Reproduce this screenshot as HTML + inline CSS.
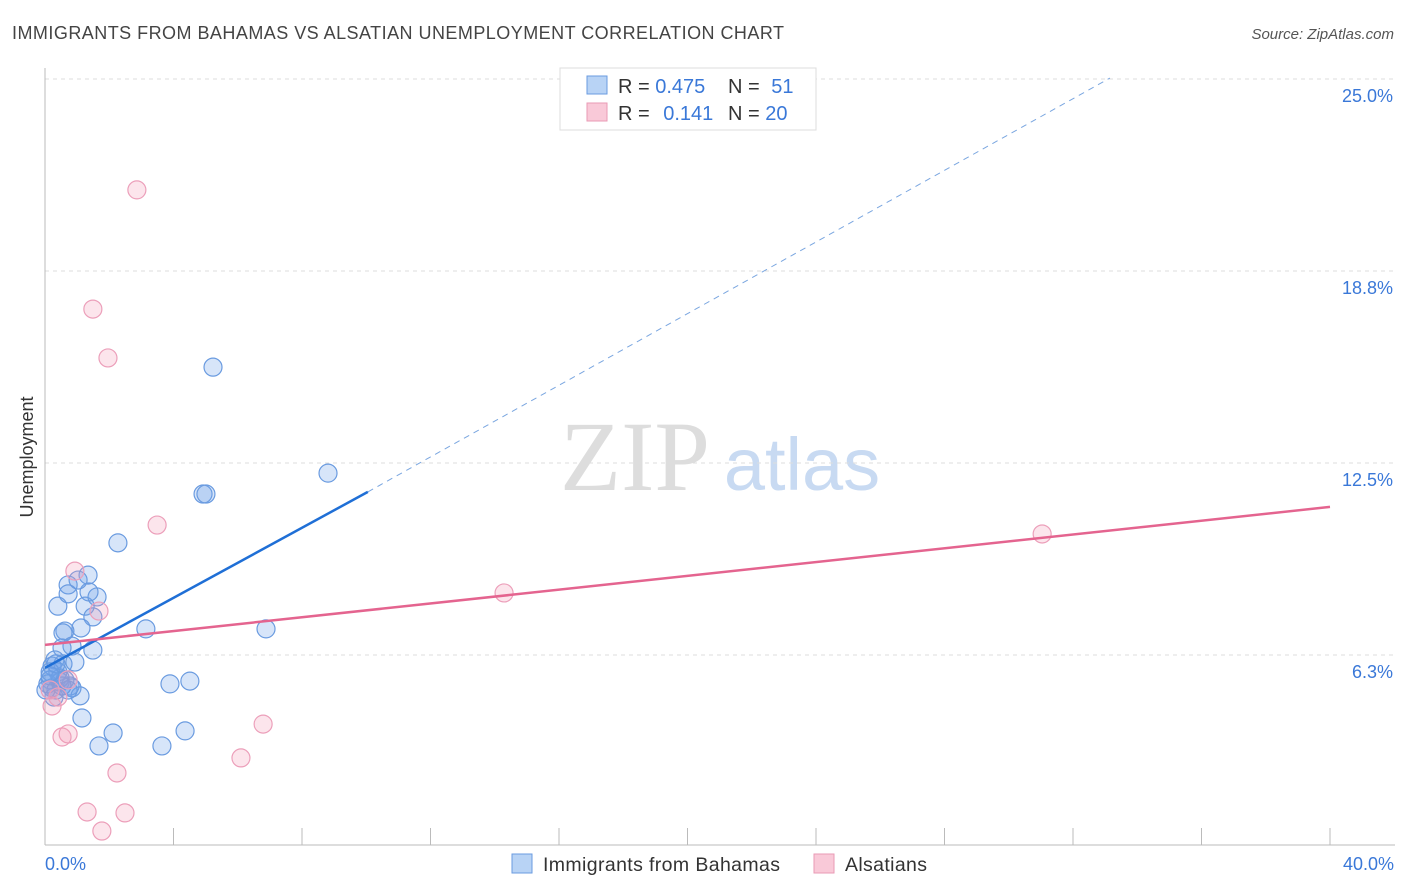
<!DOCTYPE html>
<html><head><meta charset="utf-8"><style>
body{margin:0;background:#fff;font-family:"Liberation Sans",sans-serif;}
svg{display:block}
</style></head><body>
<svg id="chart" width="1406" height="892">
<text x="12" y="39" font-size="18" fill="#444" textLength="772">IMMIGRANTS FROM BAHAMAS VS ALSATIAN UNEMPLOYMENT CORRELATION CHART</text>
<text x="1394" y="39" font-size="15" fill="#555" text-anchor="end" font-style="italic">Source: ZipAtlas.com</text>
<text x="33" y="457" font-size="18" fill="#333" text-anchor="middle" transform="rotate(-90 33 457)">Unemployment</text>
<g><text x="635" y="490" font-size="100" fill="#ddd" text-anchor="middle" font-family="Liberation Serif,serif">ZIP</text><text x="802" y="490" font-size="74" fill="#c8daf2" text-anchor="middle">atlas</text></g>
<g id="grid"></g><g id="marks"></g>
<g>
<rect x="560" y="68" width="256" height="62" fill="#fff" stroke="#ddd"/>
<rect x="587" y="76" width="20" height="18" fill="#b8d3f5" stroke="#6a9be0"/>
<rect x="587" y="103" width="20" height="18" fill="#f9c9d8" stroke="#e99ab5"/>
<text x="618" y="93" font-size="20" fill="#333">R = <tspan fill="#3a78d8">0.475</tspan></text>
<text x="728" y="93" font-size="20" fill="#333">N = <tspan fill="#3a78d8" dx="6">51</tspan></text>
<text x="618" y="120" font-size="20" fill="#333">R = <tspan fill="#3a78d8" dx="8">0.141</tspan></text>
<text x="728" y="120" font-size="20" fill="#333">N = <tspan fill="#3a78d8">20</tspan></text>
</g>
<g>
<rect x="512" y="854" width="20" height="19" fill="#b8d3f5" stroke="#6a9be0"/>
<text x="543" y="871" font-size="19.5" fill="#333" textLength="237">Immigrants from Bahamas</text>
<rect x="814" y="854" width="20" height="19" fill="#f9c9d8" stroke="#e99ab5"/>
<text x="845" y="871" font-size="19.5" fill="#333" textLength="82">Alsatians</text>
</g>
</svg>
<script>
const yTicks=[6.25,12.5,18.75,25];
const yTickLabels=["6.3%","12.5%","18.8%","25.0%"];
const xTickValues=[0,4,8,12,16,20,24,28,32,36,40];
const blueX=[5.23,8.81,4.92,5.01,2.27,1.34,0.72,0.40,0.72,1.25,1.62,1.37,1.03,1.49,1.12,0.62,0.56,3.14,6.88,0.84,1.49,0.53,0.31,0.56,0.93,0.22,0.40,0.16,0.47,0.78,0.84,0.22,0.09,0.34,1.09,0.28,1.15,3.89,4.51,2.12,1.68,3.64,4.36,0.62,0.47,0.16,0.34,0.72,0.03,0.16,0.53];
const blueY=[15.62,12.17,11.49,11.49,9.90,8.85,8.53,7.84,8.24,7.84,8.14,8.30,8.69,7.49,7.13,7.03,6.97,7.10,7.10,6.54,6.41,6.48,6.09,5.96,6.02,5.89,5.70,5.44,5.37,5.24,5.18,5.18,5.31,5.11,4.92,4.88,4.20,5.31,5.40,3.71,3.29,3.29,3.78,5.44,5.50,5.70,5.96,5.11,5.11,5.57,5.24];
const pinkX=[2.86,1.49,1.96,3.49,0.93,1.68,14.29,31.04,0.72,0.22,0.40,6.79,0.72,0.53,6.10,2.24,1.31,2.49,1.77,0.16];
const pinkY=[21.39,17.51,15.92,10.48,8.98,7.68,8.27,10.19,5.44,4.59,4.88,4.00,3.68,3.58,2.90,2.41,1.14,1.11,0.52,5.11];
const blueTrend=[[0,5.83],[10.05,11.56]];
const blueTrendDash=[[10.05,11.56],[33.15,25.03]];
const pinkTrend=[[0,6.58],[40,11.07]];
const NS="http://www.w3.org/2000/svg";
const xs=v=>45+v/40*1285;
const ys=v=>847-v*192/6.25;
function mk(t,a,p){const e=document.createElementNS(NS,t);for(const k in a)e.setAttribute(k,a[k]);p.appendChild(e);return e;}
const g=document.getElementById('grid'),m=document.getElementById('marks');
yTicks.forEach((t,i)=>{
 const l=mk('line',{x1:45,x2:1395,y1:ys(t),y2:ys(t),stroke:'#ddd','stroke-dasharray':'4,4'},g);
 
 
 const tx=mk('text',{x:1393,y:ys(t)+23,'font-size':18,fill:'#3a78d8','text-anchor':'end'},g);
 tx.textContent=yTickLabels[i];
 
 
});
const ax=mk('line',{x1:45,x2:45,y1:68,y2:845,stroke:'#bbb'},g);


const bx=mk('line',{x1:45,x2:1395,y1:845,y2:845,stroke:'#bbb'},g);


xTickValues.forEach(v=>{if(v===0)return;const t=mk('line',{x1:xs(v),x2:xs(v),y1:845,y2:828,stroke:'#bbb'},g);
 
 });
[[0,"0.0%","start",45],[40,"40.0%","end",1394]].forEach(([v,s,a,x])=>{const t=mk('text',{x:x,y:870,'font-size':18,fill:'#3a78d8','text-anchor':a},g);t.textContent=s;
 
 });
function pts(X,Y,fill,stroke,name){X.forEach((x,i)=>{const c=mk('circle',{cx:xs(x),cy:ys(Y[i]),r:9,fill:fill,stroke:stroke,'stroke-width':1.2},m);
 
 });}
pts(blueX,blueY,'rgba(110,160,235,0.28)','#6a9be0','bahamas-point');
pts(pinkX,pinkY,'rgba(245,150,180,0.25)','#ec9fba','alsatians-point');
function ln(p,st,w,d,name){const l=mk('line',{x1:xs(p[0][0]),y1:ys(p[0][1]),x2:xs(p[1][0]),y2:ys(p[1][1]),stroke:st,'stroke-width':w},m);if(d)l.setAttribute('stroke-dasharray',d);
 
 }
ln(blueTrendDash,'#7aa6e0',1,'6,5','bahamas-trend-extension');
ln(blueTrend,'#1f6fd6',2.5,null,'bahamas-trendline');
ln(pinkTrend,'#e4648f',2.5,null,'alsatians-trendline');
</script>
</body></html>
